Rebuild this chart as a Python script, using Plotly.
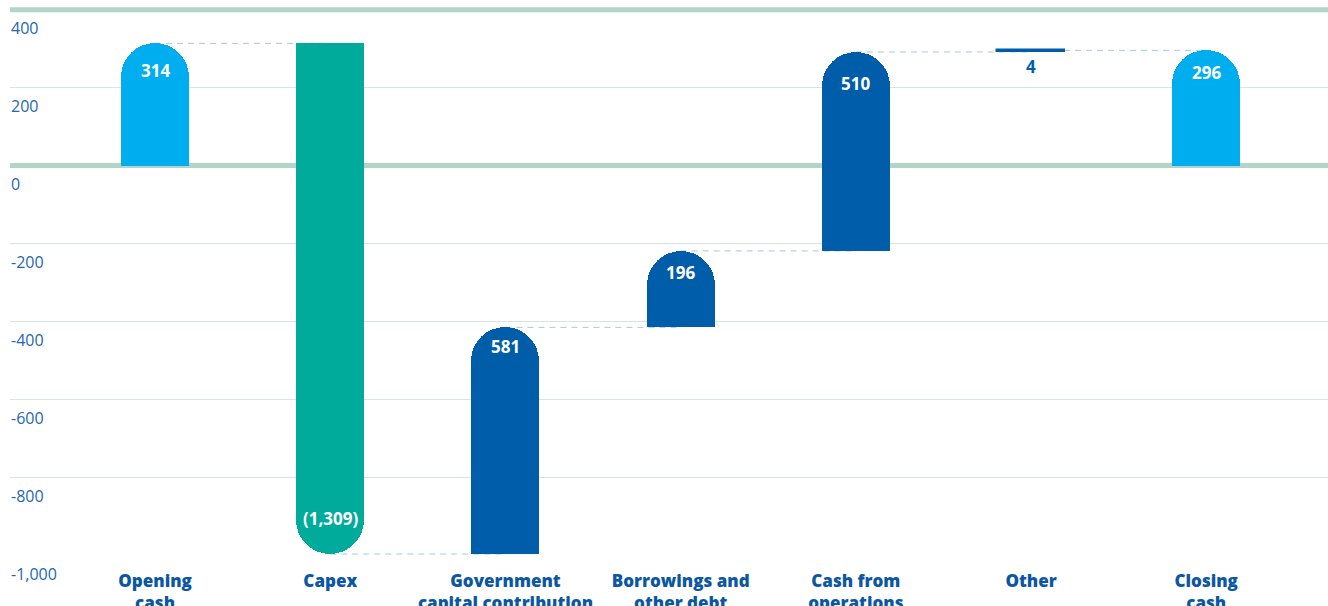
import plotly.graph_objects as go

categories = ["Opening<br>cash", "Capex", "Government<br>capital contribution",
              "Borrowings and<br>other debt", "Cash from<br>operations", "Other", "Closing<br>cash"]
values = [314, -1309, 581, 196, 510, 4, 296]
value_labels = ["314", "(1,309)", "581", "196", "510", "4", "296"]
kinds = ["total", "delta", "delta", "delta", "delta", "delta", "total"]
y_ticks = [-1000, -800, -600, -400, -200, 0, 200, 400]
y_tick_text = ["-1,000", "-800", "-600", "-400", "-200", "0", "200", "400"]

# style
LIGHT = "#00AEEF"
TEAL = "#00AB9B"
DARK = "#005DAA"
colors = [LIGHT, TEAL, DARK, DARK, DARK, DARK, LIGHT]
label_shift = [-27, 36, -19, -22, -32, -16, -22]
label_color = ["white"] * 5 + [DARK, "white"]
GRID = "#D3E7DF"
THICK = "#B2D5C8"
AXIS_TXT = "#2467B0"
CAT_TXT = "#0B57A4"
BAR_W = 0.388
Y_RANGE = [-1000, 420]
PLOT_H = 606 - 2 - 50
RADIUS_UNITS = 34 / (PLOT_H / (Y_RANGE[1] - Y_RANGE[0]))  # half bar width in data units

# compute bases / tips / running levels
bases, tips, levels = [], [], []
run = 0
for v, k in zip(values, kinds):
    if k == "total":
        b = 0
        run = v
    else:
        b = run
        run = run + v
    bases.append(b)
    tips.append(b + v)
    levels.append(run)

xs = list(range(len(categories)))
fig = go.Figure()
rounded = [i for i in xs if abs(values[i]) > RADIUS_UNITS]
flat = [i for i in xs if i not in rounded]

# rounded bars (plotly rounds both ends) ...
fig.add_trace(go.Bar(
    x=[xs[i] for i in rounded], y=[values[i] for i in rounded], base=[bases[i] for i in rounded],
    marker=dict(color=[colors[i] for i in rounded], cornerradius="50%", line=dict(width=0)),
    width=BAR_W, hoverinfo="skip", showlegend=False))
# ... so cover the base end with a flat bar of the same colour
sgn = [1 if v > 0 else -1 for v in values]
fig.add_trace(go.Bar(
    x=[xs[i] for i in rounded],
    y=[values[i] - sgn[i] * RADIUS_UNITS for i in rounded],
    base=[bases[i] for i in rounded],
    marker=dict(color=[colors[i] for i in rounded], line=dict(width=0)),
    width=BAR_W, hoverinfo="skip", showlegend=False))
fig.add_trace(go.Bar(
    x=[xs[i] for i in flat], y=[values[i] for i in flat], base=[bases[i] for i in flat],
    marker=dict(color=[colors[i] for i in flat], line=dict(width=1.5, color=DARK)),
    width=BAR_W, hoverinfo="skip", showlegend=False))

# connectors
for i in range(len(xs) - 1):
    fig.add_shape(type="line", x0=xs[i], x1=xs[i + 1], y0=levels[i], y1=levels[i],
                  line=dict(color="#A9C5E5", width=1, dash="6px,5px"), layer="below")

# thick line at top (400)
fig.add_shape(type="line", xref="paper", x0=0, x1=1, y0=400, y1=400,
              line=dict(color=THICK, width=5), layer="above")

for i in xs:
    fig.add_annotation(x=xs[i], y=tips[i], text="<b>%s</b>" % value_labels[i], showarrow=False,
                       yshift=label_shift[i], font=dict(family="Open Sans", size=17, color=label_color[i]))

fig.update_layout(
    width=1328, height=606,
    margin=dict(l=10, r=0, t=2, b=50),
    plot_bgcolor="white", paper_bgcolor="white",
    bargap=0, barmode="overlay",
    xaxis=dict(range=[-0.828, 6.695], tickvals=xs, ticktext=categories, showgrid=False,
               zeroline=False, showline=False, ticks="", automargin=False,
               ticklabelstandoff=13,
               tickfont=dict(family="Open Sans", size=17, color=CAT_TXT, weight=800)),
    yaxis=dict(range=Y_RANGE, tickvals=y_ticks, ticktext=y_tick_text,
               showgrid=True, gridcolor=GRID, gridwidth=1,
               zeroline=True, zerolinecolor=THICK, zerolinewidth=5,
               ticklabelposition="inside bottom", ticks="", showline=False,
               automargin=False, ticklabeloverflow="allow",
               ticklabelstandoff=-2, ticklabelshift=7,
               tickfont=dict(family="Open Sans", size=16, color=AXIS_TXT)),
)
fig.write_html("out.html", config={"displayModeBar": False},
               post_script="document.body.style.margin='0';document.body.style.overflow='hidden';")
